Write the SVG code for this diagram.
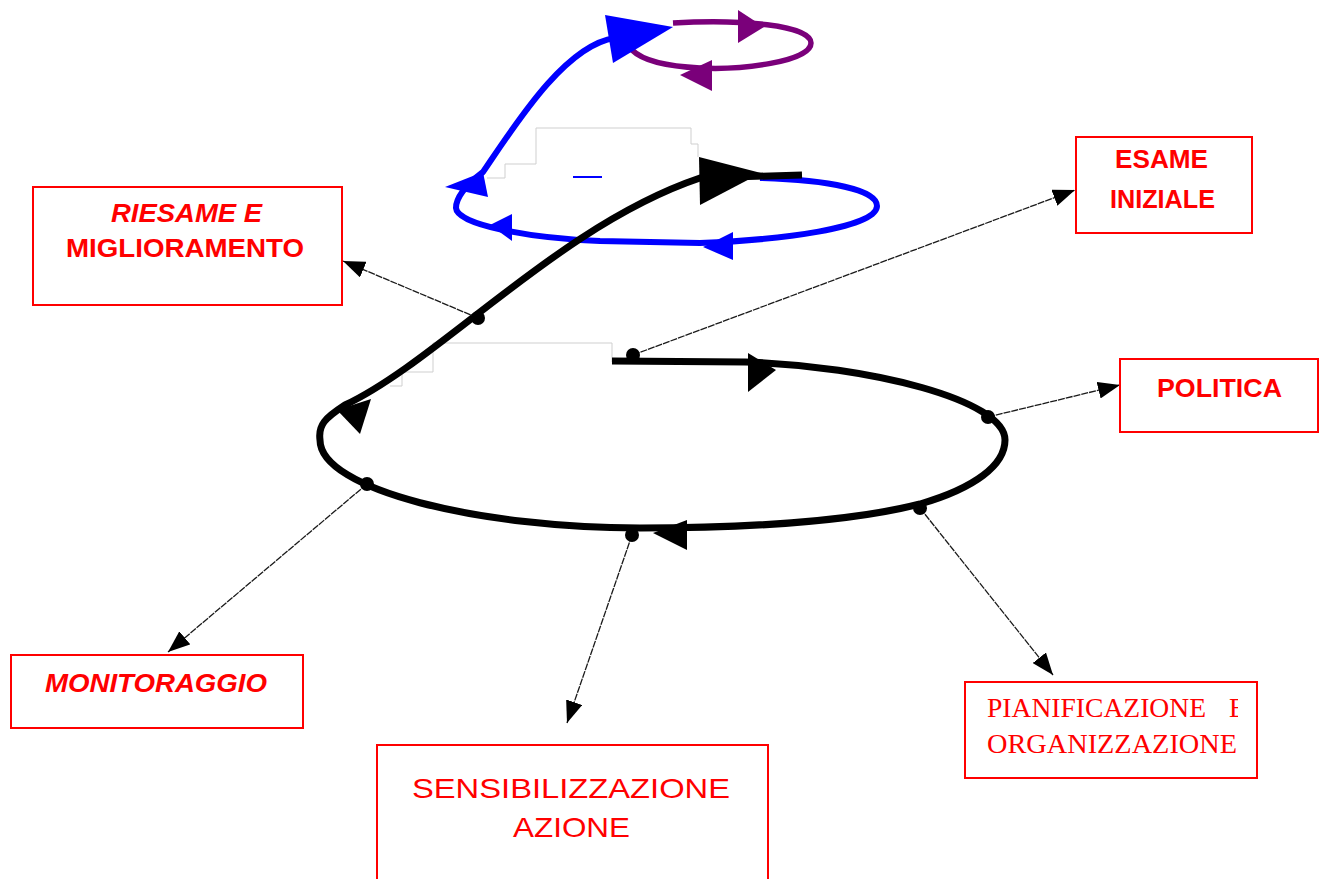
<svg xmlns="http://www.w3.org/2000/svg" width="1322" height="879" viewBox="0 0 1322 879">
  <defs>
    <style>
      .box { fill: #ffffff; stroke: #ff0000; stroke-width: 2; }
      .lbl { fill: #ff0000; font-family: "Liberation Sans", Arial, sans-serif; font-size: 26px; font-weight: bold; }
      .it { font-style: italic; }
      .reg { font-weight: normal; font-size: 28px; }
      .serif { fill: #ff0000; font-family: "Liberation Serif", "Times New Roman", serif; font-size: 27px; }
      .link { fill: none; stroke: #1a1a1a; stroke-width: 1.3; stroke-dasharray: 7 1; marker-end: url(#tip); }
      .dot { fill: #000000; }
      .ghost { fill: #ffffff; stroke: #cfcfcf; stroke-width: 1; }
    </style>
    <marker id="tip" viewBox="0 0 22 17" refX="22" refY="8.5" markerWidth="22" markerHeight="17" markerUnits="userSpaceOnUse" orient="auto">
      <path d="M0,0 L22,8.5 L0,17 Z" fill="#000000"/>
    </marker>
    <clipPath id="clipPian">
      <rect x="966" y="683" width="272" height="94"/>
    </clipPath>
  </defs>

  <rect width="1322" height="879" fill="#ffffff"/>

  <!-- faint white panels left behind by the drawing -->
  <g id="panels">
    <polyline class="ghost" points="487,178 505,178 505,164 536,164 536,128 691,128 691,144 698,144 698,157"/>
    <polyline class="ghost" points="390,386 402,386 402,372 433,372 433,343 612,343 612,362"/>
    <line x1="573" y1="177" x2="602" y2="177" stroke="#0000ff" stroke-width="2"/>
  </g>

  <!-- spiral: black lower turn, blue middle turn, purple top loop -->
  <g id="spiral">
    <path d="M673,23 C740,19 811,25 811,43 C811,62 740,70 700,68 C660,66 640,58 632,50" fill="none" stroke="#7a007a" stroke-width="5.5"/>
    <polygon points="738,10 764,27 738,43" fill="#7a007a"/>
    <polygon points="680,75 712,60 712,91" fill="#7a007a"/>

    <path d="M760,178 C830,180 877,190 877,206 C877,228 780,240 700,243 L600,241 C530,238 457,225 456,208 C456,195 470,182 483,172 C515,125 565,45 615,38" fill="none" stroke="#0000ff" stroke-width="6"/>
    <polygon points="605,15 673,27 613,63" fill="#0000ff"/>
    <polygon points="703,247 733,232 733,260" fill="#0000ff"/>
    <polygon points="490,225 512,214 512,241" fill="#0000ff"/>
    <polygon points="445,187 483,172 488,197" fill="#0000ff"/>

    <path d="M612,361 L745,362 C870,366 1005,400 1005,440 C1005,465 975,488 920,504 C850,522 740,528 640,528 C480,528 320,490 320,440 C318,425 325,418 345,405 C440,360 560,225 700,178 L802,175" fill="none" stroke="#000000" stroke-width="7"/>
    <polygon points="699,157 761,173 700,205" fill="#000000"/>
    <polygon points="748,353 776,370 748,392" fill="#000000"/>
    <polygon points="653,533 687,520 687,550" fill="#000000"/>
    <polygon points="337,410 371,399 360,434" fill="#000000"/>
  </g>

  <!-- thin pointers from the spiral to each phase -->
  <g id="connectors">
    <line class="link" x1="478" y1="318" x2="343" y2="261"/>
    <line class="link" x1="633" y1="355" x2="1075" y2="190"/>
    <line class="link" x1="988" y1="417" x2="1120" y2="385"/>
    <line class="link" x1="920" y1="508" x2="1053" y2="675"/>
    <line class="link" x1="632" y1="535" x2="567" y2="723"/>
    <line class="link" x1="367" y1="484" x2="168" y2="652"/>
    <circle class="dot" cx="478" cy="318" r="7"/>
    <circle class="dot" cx="633" cy="355" r="7"/>
    <circle class="dot" cx="988" cy="417" r="7"/>
    <circle class="dot" cx="920" cy="508" r="7"/>
    <circle class="dot" cx="632" cy="535" r="7"/>
    <circle class="dot" cx="367" cy="484" r="7"/>
  </g>

  <g id="riesame">
    <rect class="box" x="33" y="187" width="309" height="118"/>
    <text class="lbl it" x="111" y="222" textLength="151" lengthAdjust="spacingAndGlyphs">RIESAME E</text>
    <text class="lbl" x="66" y="257" textLength="238" lengthAdjust="spacingAndGlyphs">MIGLIORAMENTO</text>
  </g>

  <g id="esame">
    <rect class="box" x="1076" y="137" width="176" height="96"/>
    <text class="lbl" x="1115" y="168" textLength="93" lengthAdjust="spacingAndGlyphs">ESAME</text>
    <text class="lbl" x="1110" y="208" textLength="105" lengthAdjust="spacingAndGlyphs">INIZIALE</text>
  </g>

  <g id="politica">
    <rect class="box" x="1120" y="359" width="198" height="73"/>
    <text class="lbl" x="1157" y="397" textLength="125" lengthAdjust="spacingAndGlyphs">POLITICA</text>
  </g>

  <g id="monitoraggio">
    <rect class="box" x="11" y="655" width="292" height="73"/>
    <text class="lbl it" x="45" y="692" textLength="222" lengthAdjust="spacingAndGlyphs">MONITORAGGIO</text>
  </g>

  <g id="sensibilizzazione">
    <rect class="box" x="377" y="745" width="391" height="150"/>
    <text class="lbl reg" x="412" y="798" textLength="318" lengthAdjust="spacingAndGlyphs">SENSIBILIZZAZIONE</text>
    <text class="lbl reg" x="513" y="837" textLength="117" lengthAdjust="spacingAndGlyphs">AZIONE</text>
  </g>

  <g id="pianificazione">
    <rect class="box" x="965" y="682" width="292" height="96"/>
    <g clip-path="url(#clipPian)">
      <text class="serif" x="987" y="717" textLength="219" lengthAdjust="spacingAndGlyphs">PIANIFICAZIONE</text>
      <text class="serif" x="1229" y="717">E</text>
      <text class="serif" x="987" y="753" textLength="250" lengthAdjust="spacingAndGlyphs">ORGANIZZAZIONE</text>
    </g>
  </g>
</svg>
